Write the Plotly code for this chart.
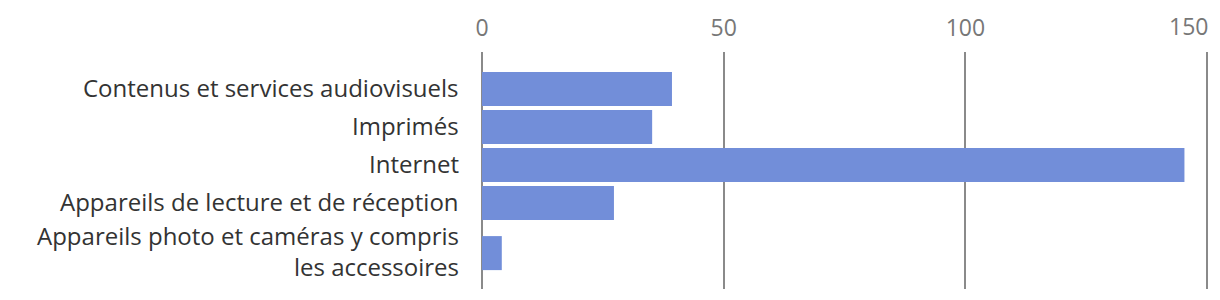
import plotly.graph_objects as go

categories = [
    "Contenus et services audiovisuels",
    "Imprimés",
    "Internet",
    "Appareils de lecture et de réception",
    "Appareils photo et caméras y compris<br>les accessoires",
]
values = [39.3, 35.2, 145.3, 27.3, 4.1]
x_ticks = [0, 50, 100, 150]

BAR_COLOR = "#728ed9"
GRID_COLOR = "#8a8a8a"
FONT = "Open Sans"
TICK_FONT = dict(family=FONT, size=23, color="#777777")

# styling: bar thickness and per-row vertical offsets (last row is taller)
bar_width = 34 / 38
row_shift = [0, 0, 0, 0, 12 / 38]
offsets = [-bar_width / 2 + s for s in row_shift]

fig = go.Figure()
fig.add_trace(go.Bar(
    x=values,
    y=categories,
    orientation="h",
    marker=dict(color=BAR_COLOR, line=dict(width=0)),
    width=bar_width,
    offset=offsets,
    hoverinfo="skip",
))

annotations = []
for cat, s in zip(categories, row_shift):
    annotations.append(dict(
        x=0, xref="paper", y=cat, yref="y",
        xanchor="right", yanchor="middle",
        text=cat, showarrow=False, align="right",
        xshift=-20, yshift=2 - s * 38,
        font=dict(family=FONT, size=24, color="#333333"),
    ))

# last tick label is kept inside the chart: right-aligned on its gridline
last = x_ticks[-1]
annotations.append(dict(
    x=last, xref="x", y=1, yref="paper",
    xanchor="right", yanchor="bottom",
    text=str(last), showarrow=False,
    xshift=3, yshift=8,
    font=TICK_FONT,
))

fig.update_layout(
    width=1220, height=300,
    margin=dict(l=481, r=8, t=52, b=11),
    paper_bgcolor="white", plot_bgcolor="white",
    showlegend=False,
    annotations=annotations,
    xaxis=dict(
        side="top",
        range=[-0.2, 151],
        tickvals=x_ticks,
        ticktext=[str(v) if v != last else "" for v in x_ticks],
        showgrid=True, gridcolor=GRID_COLOR, gridwidth=2,
        zeroline=True, zerolinecolor=GRID_COLOR, zerolinewidth=2,
        showline=False, ticks="",
        ticklabelstandoff=10,
        ticklabeloverflow="allow",
        tickfont=TICK_FONT,
        fixedrange=True,
    ),
    yaxis=dict(
        type="category",
        categoryorder="array", categoryarray=categories,
        range=[5.26, -0.974],
        showticklabels=False, showgrid=False, zeroline=False, showline=False,
        ticks="",
        fixedrange=True,
    ),
)

fig.write_html("out.html")
